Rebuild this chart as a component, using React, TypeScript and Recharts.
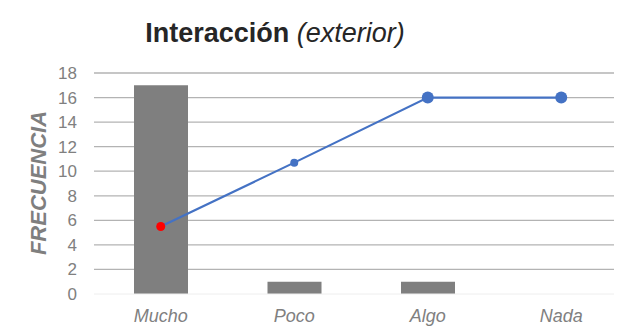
import React from 'react';
import { ComposedChart, Bar, Line, XAxis, YAxis, CartesianGrid } from 'recharts';

const categories = ['Mucho', 'Poco', 'Algo', 'Nada'];
const barValues = [17, 1, 1, 0];
const lineValues = [5.5, 10.7, 16, 16];
const yTicks = [0, 2, 4, 6, 8, 10, 12, 14, 16, 18];

const data = categories.map((c, i) => ({ cat: c, bar: barValues[i], line: lineValues[i] }));

const FONT = '"Liberation Sans", Arial, sans-serif';

const CustomDot = (props: any) => {
  const { cx, cy, index } = props;
  if (cx == null || cy == null) return null;
  if (index === 0) return <circle cx={cx} cy={cy} r={4.5} fill="#FF0000" stroke="none" />;
  if (index === 1) return <circle cx={cx} cy={cy} r={4} fill="#4472C4" stroke="none" />;
  return <circle cx={cx} cy={cy} r={6} fill="#4472C4" stroke="none" />;
};

export default function App() {
  return (
    <div style={{ position: 'relative', width: 622, height: 328, margin: '-8px 0 0 -8px', overflow: 'hidden', background: '#fff', fontFamily: FONT }}>
      <div style={{ position: 'absolute', left: 0, width: 550, top: 17, textAlign: 'center', fontSize: 27, color: '#262626', lineHeight: '32px', whiteSpace: 'nowrap' }}>
        <span style={{ fontWeight: 'bold' }}>Interacción</span>{' '}
        <span style={{ fontStyle: 'italic' }}>(exterior)</span>
      </div>
      <div style={{ position: 'absolute', left: 39, top: 183, transform: 'translate(-50%, -50%) rotate(-90deg)', fontSize: 22, fontWeight: 'bold', fontStyle: 'italic', color: '#7f7f7f', whiteSpace: 'nowrap' }}>
        FRECUENCIA
      </div>
      <div style={{ position: 'absolute', left: 0, top: 0 }}>
        <ComposedChart width={630} height={328} data={data} margin={{ top: 73, right: 2, bottom: 0, left: 0 }}>
          <CartesianGrid horizontal vertical={false} stroke="#b3b3b3" strokeWidth={1.3} horizontalValues={[2, 4, 6, 8, 10, 12, 14, 16, 18]} />
          <XAxis dataKey="cat" height={34} tickLine={false} axisLine={{ stroke: '#eeeeee' }} tickSize={0} tickMargin={15}
            tick={{ fill: '#808080', fontSize: 18, fontStyle: 'italic', fontFamily: FONT }} />
          <YAxis width={94} domain={[0, 18]} ticks={yTicks} tickLine={false} axisLine={false} tickSize={0} tickMargin={17}
            tick={{ fill: '#808080', fontSize: 17, fontFamily: FONT }} interval={0} />
          <Bar dataKey="bar" fill="#7f7f7f" barSize={54} isAnimationActive={false} />
          <Line dataKey="line" stroke="#4472C4" strokeWidth={2.2} dot={<CustomDot />} activeDot={false} isAnimationActive={false} />
        </ComposedChart>
      </div>
    </div>
  );
}
